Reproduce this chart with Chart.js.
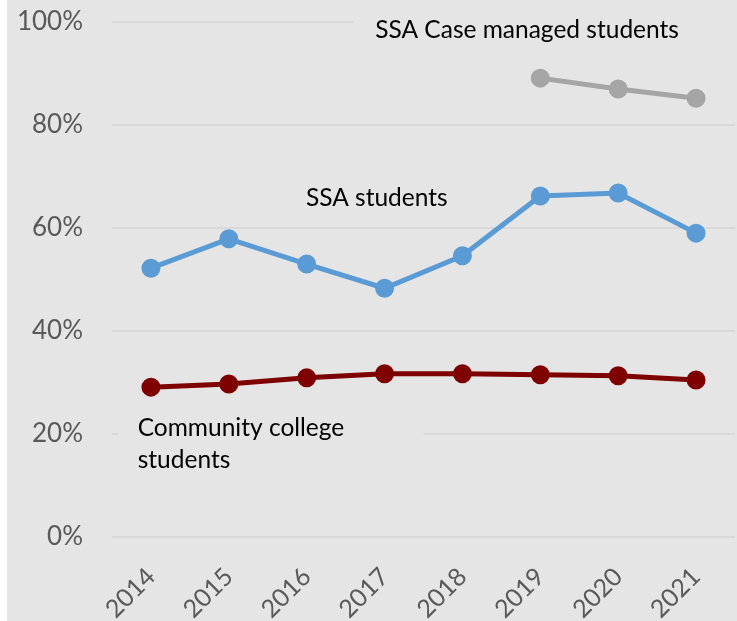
<!DOCTYPE html>
<html>
<head>
<meta charset="utf-8">
<script src="https://cdn.jsdelivr.net/npm/chart.js@4/dist/chart.umd.min.js"></script>
<style>
  html, body { margin: 0; padding: 0; background: #ffffff; }
  #wrap { position: absolute; left: 7px; top: 0; width: 730px; height: 621px; background: #e5e5e5; }
  canvas { display: block; }
</style>
</head>
<body>
<div id="wrap"><canvas id="c" width="730" height="621"></canvas></div>
<script>
const years = ['2014', '2015', '2016', '2017', '2018', '2019', '2020', '2021'];
const communityCollege = [29.1, 29.7, 30.9, 31.7, 31.7, 31.5, 31.3, 30.5];
const ssaStudents = [52.2, 57.9, 53.0, 48.3, 54.6, 66.2, 66.8, 59.0];
const ssaCaseManaged = [null, null, null, null, null, 89.1, 87.0, 85.2];
const yTicks = [0, 20, 40, 60, 80, 100];

const FONT = 'Lato, "Open Sans", sans-serif';
const BG = '#e5e5e5';

const annotations = [
  { lines: ['SSA Case managed students'], x: 2.88, y: 98.4, box: { x0: 2.6, x1: 8.0, y0: 102, y1: 94 } },
  { lines: ['SSA students'], x: 1.99, y: 65.8, box: null },
  { lines: ['Community college', 'students'], x: -0.17, y: 21.2, box: { x0: -0.42, x1: 3.5, y0: 24.5, y1: 11.5 } }
];

const annotPlugin = {
  id: 'annot',
  beforeDatasetsDraw(chart) {
    const ctx = chart.ctx;
    const xs = chart.scales.x, ys = chart.scales.y;
    ctx.save();
    annotations.forEach(a => {
      if (a.box) {
        const bx0 = xs.getPixelForValue(a.box.x0);
        const bx1 = Math.min(xs.getPixelForValue(a.box.x1), chart.width);
        const by0 = ys.getPixelForValue(a.box.y0);
        const by1 = ys.getPixelForValue(a.box.y1);
        ctx.fillStyle = BG;
        ctx.fillRect(bx0, by0, bx1 - bx0, by1 - by0);
      }
      ctx.fillStyle = '#000000';
      ctx.font = '24.5px ' + FONT;
      ctx.textAlign = 'left';
      ctx.textBaseline = 'middle';
      const px = xs.getPixelForValue(a.x);
      const py = ys.getPixelForValue(a.y);
      a.lines.forEach((l, i) => ctx.fillText(l, px, py + i * 32));
    });
    ctx.restore();
  }
};

const mkDs = (label, data, color) => ({
  label, data,
  borderColor: color, backgroundColor: color,
  pointBackgroundColor: color, pointBorderColor: color,
  borderWidth: 5, pointRadius: 7, pointHoverRadius: 7,
  tension: 0, spanGaps: false
});

const zeroPad = () => ({ left: 0, top: 0, right: 0, bottom: 0 });

new Chart(document.getElementById('c'), {
  type: 'line',
  data: {
    labels: years,
    datasets: [
      mkDs('SSA Case managed students', ssaCaseManaged, '#a5a5a5'),
      mkDs('SSA students', ssaStudents, '#5b9bd5'),
      mkDs('Community college students', communityCollege, '#7f0000')
    ]
  },
  options: {
    responsive: false,
    animation: false,
    devicePixelRatio: 1,
    layout: { autoPadding: false, padding: { top: 22, right: 2, left: 0, bottom: 0 } },
    plugins: { legend: { display: false }, tooltip: { enabled: false } },
    scales: {
      x: {
        offset: true,
        afterFit(scale) { scale.height = 84; scale.paddingLeft = 0; scale.paddingRight = 0; scale.getPadding = zeroPad; },
        grid: { display: false, drawTicks: false },
        border: { display: false },
        ticks: {
          color: '#595959', font: { family: FONT, size: 25 },
          maxRotation: 45, minRotation: 45, padding: 25
        }
      },
      y: {
        min: 0, max: 100,
        afterBuildTicks(scale) { scale.ticks = yTicks.map(v => ({ value: v })); },
        afterFit(scale) { scale.width = 105; scale.paddingTop = 0; scale.paddingBottom = 0; scale.getPadding = zeroPad; },
        grid: { color: '#d9d9d9', lineWidth: 2, drawTicks: false },
        border: { display: false },
        ticks: {
          color: '#595959', font: { family: FONT, size: 26 }, padding: 29,
          callback: v => v + '%'
        }
      }
    }
  },
  plugins: [annotPlugin]
});
</script>
</body>
</html>
